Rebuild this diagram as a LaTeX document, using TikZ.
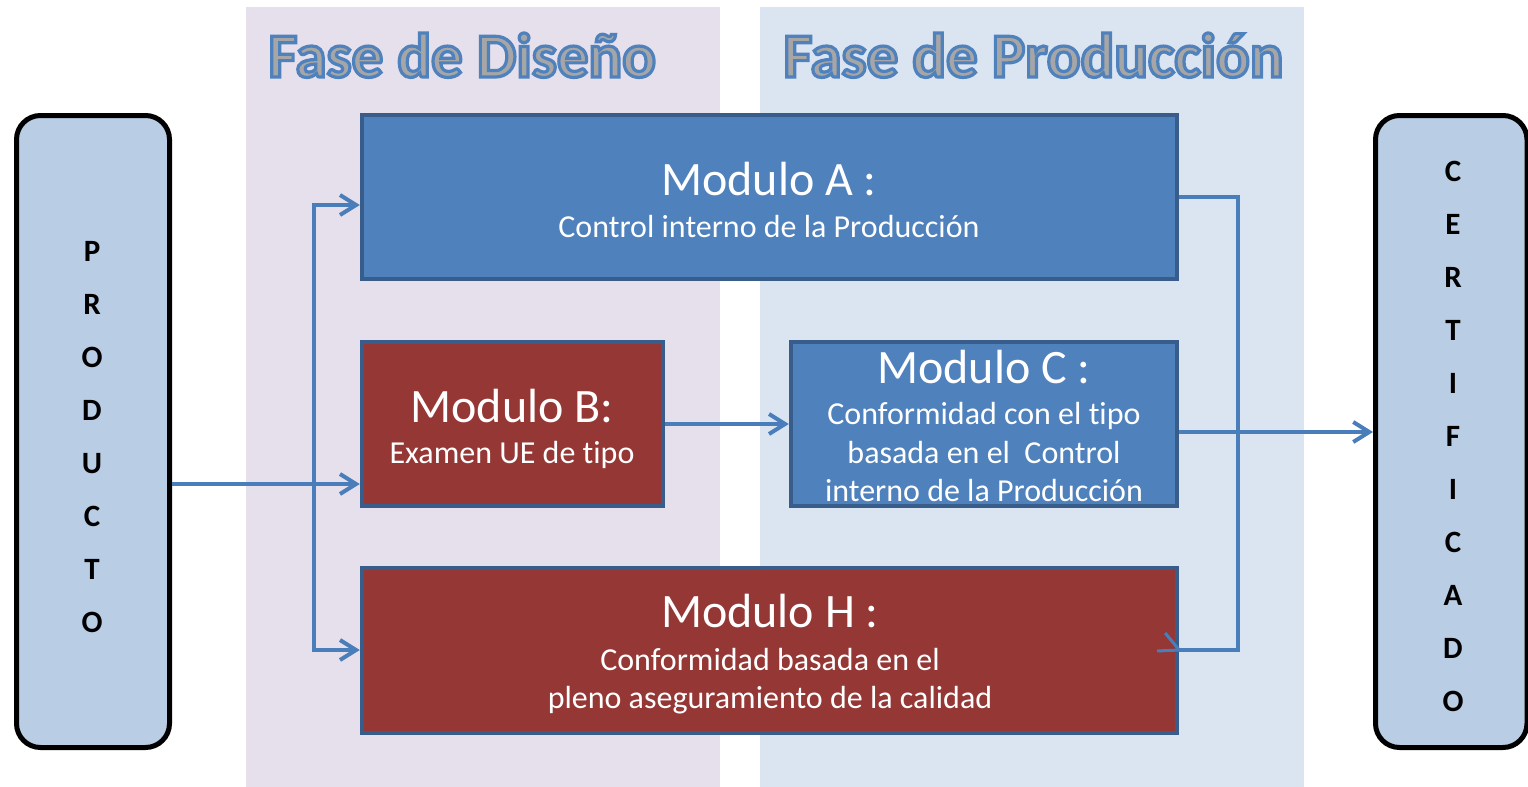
\documentclass[tikz,border=0pt]{standalone}
\usepackage{fontspec}
\setmainfont{Carlito}[Ligatures={NoCommon}]
\usetikzlibrary{arrows.meta,fit}
\definecolor{bgdis}{HTML}{E5E0EC}
\definecolor{bgprod}{HTML}{DBE5F1}
\definecolor{boxblue}{HTML}{4F81BD}
\definecolor{boxborder}{HTML}{385D8A}
\definecolor{boxred}{HTML}{953735}
\definecolor{arrowblue}{HTML}{4A7EBB}
\definecolor{sidefill}{HTML}{B9CDE5}
\definecolor{titlegray}{HTML}{A6A6A6}
\newcommand{\outlinedtitle}[1]{{\color{titlegray}\special{pdf:literal direct 2 Tr 1.6 w 0.310 0.506 0.741 RG}#1\special{pdf:literal direct 0 Tr}}}
\tikzset{
  panel/.style={inner sep=0pt},
  modbox/.style={draw=boxborder, line width=2.2pt, inner sep=0pt},
  bluebox/.style={modbox, fill=boxblue},
  redbox/.style={modbox, fill=boxred},
  sidebox/.style={draw=black, line width=2.5pt, fill=sidefill, rounded corners=12pt, inner sep=0pt},
  conn/.style={draw=arrowblue, line width=2pt},
  arr/.style={conn, -{Straight Barb[length=8pt,width=10pt]}},
  head/.style={text=white, font=\fontsize{24}{28}\selectfont, anchor=base, inner sep=0pt},
  sub/.style={text=white, font=\fontsize{16}{19}\selectfont, anchor=base, inner sep=0pt},
  vlet/.style={font=\fontsize{15.5}{18}\selectfont\bfseries, anchor=base, inner sep=0pt},
  titletext/.style={font=\fontsize{31.4}{37}\selectfont\bfseries, anchor=base west, inner sep=0pt},
}
\begin{document}
\begin{tikzpicture}[x=0.5pt,y=-0.5pt]
\useasboundingbox (0,0) rectangle (1528,787);
% background panels
\node[panel, fill=bgdis, fit={(246,7)(720,787)}] (pdis) {};
\node[panel, fill=bgprod, fit={(760,7)(1304,787)}] (pprod) {};
% titles
\node[titletext] (tdis) at (268,77) {\outlinedtitle{Fase de Diseño}};
\node[titletext] (tprod) at (783,77) {\outlinedtitle{Fase de Producción}};
% side boxes
\node[sidebox, fit={(16.5,115.5)(169.5,747.5)}] (P) {};
\node[sidebox, fit={(1375.5,115.5)(1527,747.5)}] (Cert) {};
\foreach \l [count=\i] in {P,R,O,D,U,C,T,O}
  \node[vlet] (p\i) at (92,{261+53*(\i-1)}) {\l};
\foreach \l [count=\i] in {C,E,R,T,I,F,I,C,A,D,O}
  \node[vlet] (c\i) at (1453,{181+53*(\i-1)}) {\l};
% module boxes
\node[bluebox, fit={(362,115)(1177,279)}] (A) {};
\node[redbox, fit={(362,342)(663,506)}] (B) {};
\node[bluebox, fit={(791,342)(1177,506)}] (C) {};
\node[redbox, fit={(362,568)(1177,733)}] (H) {};
% texts
\node[head] (Ah) at (769,195) {Modulo A :};
\node[sub] (As) at (769,237) {Control interno de la Producción};
\node[head] (Bh) at (512,422) {Modulo B:};
\node[sub] (Bs) at (512,463) {Examen UE de tipo};
\node[head] (Ch) at (984,383) {Modulo C :};
\node[sub] (Cs1) at (984,424) {Conformidad con el tipo};
\node[sub] (Cs2) at (984,463) {basada en el \ Control};
\node[sub] (Cs3) at (984,501) {interno de la Producción};
\node[head] (Hh) at (770,627) {Modulo H :};
\node[sub] (Hs1) at (770,670) {Conformidad basada en el};
\node[sub] (Hs2) at (770,708) {pleno aseguramiento de la calidad};
% connectors
\coordinate (he) at (H.east |- 0,650);
\draw[arr] (P.east |- 0,484) -- (B.west |- 0,484);
\draw[arr] (314,484) |- (A.west |- 0,205);
\draw[arr] (314,484) |- (H.west |- 0,650);
\draw[arr] (B.east) -- (C.west);
\draw[arr] (C.east |- 0,432) -- (Cert.west |- 0,432);
\draw[conn] (A.east |- 0,197) -| (1238,650) -- (he);
\draw[conn, line width=1.5pt] ([shift={(-22,1)}]he) -- (he);
\draw[conn, line width=1.5pt] ([shift={(-14,-17)}]he) -- (he);
\end{tikzpicture}
\end{document}
